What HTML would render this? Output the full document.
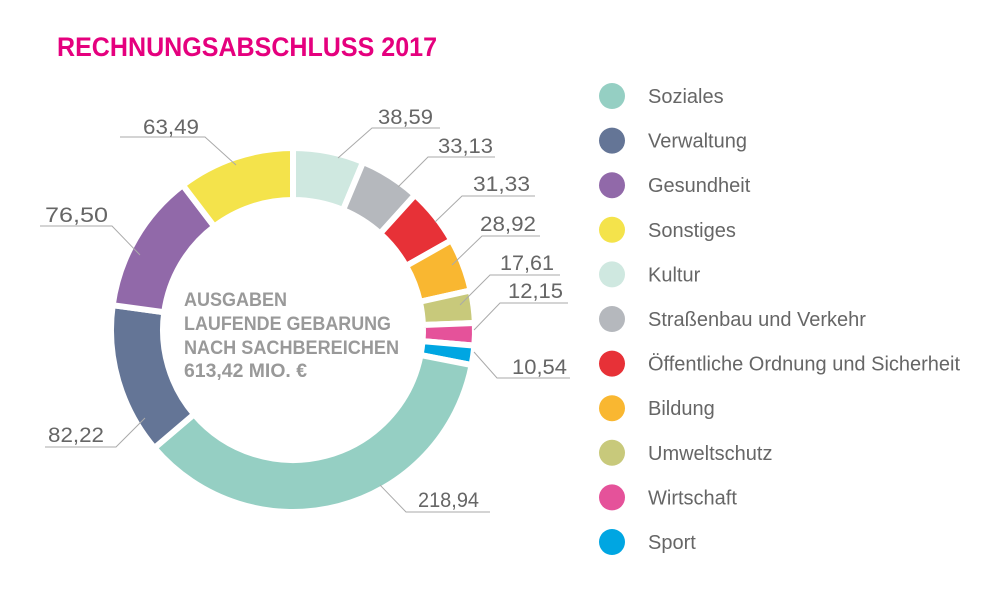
<!DOCTYPE html>
<html><head><meta charset="utf-8"><style>
html,body{margin:0;padding:0;background:#fff;}
svg{display:block;font-family:"Liberation Sans",sans-serif;}
</style></head><body>
<svg id="s" width="1000" height="600" viewBox="0 0 1000 600">
<text x="57" y="56" fill="#e5007e" font-size="27" font-weight="bold" textLength="380" lengthAdjust="spacingAndGlyphs">RECHNUNGSABSCHLUSS 2017</text>
<g id="ring"></g>
<g fill="#999" font-size="19" font-weight="bold">
<text x="184" y="306" textLength="103" lengthAdjust="spacingAndGlyphs">AUSGABEN</text>
<text x="184" y="330" textLength="207" lengthAdjust="spacingAndGlyphs">LAUFENDE GEBARUNG</text>
<text x="184" y="354" textLength="215" lengthAdjust="spacingAndGlyphs">NACH SACHBEREICHEN</text>
<text x="184" y="377" textLength="123" lengthAdjust="spacingAndGlyphs">613,42 MIO. €</text>
</g>
<g stroke="#aaa" stroke-width="1" fill="none">
<polyline points="120,137 205,137 236,165"/>
<polyline points="440,128 372,128 338,158"/>
<polyline points="495,157 428,157 398,187"/>
<polyline points="535,196 462,196 435,222"/>
<polyline points="540,236 482,236 452,265"/>
<polyline points="560,275 490,275 460,305"/>
<polyline points="568,303 500,303 474,330"/>
<polyline points="474,352 497,378 570,378"/>
<polyline points="380,485 406,512 490,512"/>
<polyline points="45,447 116,447 145,418"/>
<polyline points="40,226 112,226 140,255"/>
</g>
<g fill="#666" font-size="21">
<text x="143" y="134" textLength="56" lengthAdjust="spacingAndGlyphs">63,49</text>
<text x="378" y="124" textLength="55" lengthAdjust="spacingAndGlyphs">38,59</text>
<text x="438" y="153" textLength="55" lengthAdjust="spacingAndGlyphs">33,13</text>
<text x="473" y="191" textLength="57" lengthAdjust="spacingAndGlyphs">31,33</text>
<text x="480" y="231" textLength="56" lengthAdjust="spacingAndGlyphs">28,92</text>
<text x="500" y="270" textLength="54" lengthAdjust="spacingAndGlyphs">17,61</text>
<text x="508" y="298" textLength="55" lengthAdjust="spacingAndGlyphs">12,15</text>
<text x="512" y="374" textLength="55" lengthAdjust="spacingAndGlyphs">10,54</text>
<text x="418" y="507" textLength="61" lengthAdjust="spacingAndGlyphs">218,94</text>
<text x="48" y="442" textLength="56" lengthAdjust="spacingAndGlyphs">82,22</text>
<text x="45" y="222" textLength="63" lengthAdjust="spacingAndGlyphs">76,50</text>
</g>
<g id="leg" fill="#666" font-size="20"></g>
</svg>
<script>
var cx=293,cy=330,R=182,r=130;
var d=[[38.59,"#cfe8e0"],[33.13,"#b5b8bd"],[31.33,"#e73137"],[28.92,"#f9b731"],[17.61,"#c8c97b"],[12.15,"#e5529a"],[10.54,"#00a6e2"],[218.94,"#95cfc3"],[82.22,"#647596"],[76.5,"#9169a9"],[63.49,"#f4e34b"]];
var tot=613.42,a=0,g=document.getElementById("ring"),ns="http://www.w3.org/2000/svg";
function p(rad,ang){return [cx+rad*Math.sin(ang),cy-rad*Math.cos(ang)];}
d.forEach(function(x){var a0=a/tot*2*Math.PI;a+=x[0];var a1=a/tot*2*Math.PI;
var L=(a1-a0)>Math.PI?1:0;var A=p(R,a0),B=p(R,a1),C=p(r,a1),D=p(r,a0);
var e=document.createElementNS(ns,"path");
e.setAttribute("d","M"+A+"A"+R+","+R+" 0 "+L+" 1 "+B+"L"+C+"A"+r+","+r+" 0 "+L+" 0 "+D+"Z");
e.setAttribute("fill",x[1]);e.setAttribute("stroke","#fff");e.setAttribute("stroke-width","6");g.appendChild(e);});
var leg=[["Soziales","#95cfc3"],["Verwaltung","#647596"],["Gesundheit","#9169a9"],["Sonstiges","#f4e34b"],["Kultur","#cfe8e0"],["Straßenbau und Verkehr","#b5b8bd"],["Öffentliche Ordnung und Sicherheit","#e73137"],["Bildung","#f9b731"],["Umweltschutz","#c8c97b"],["Wirtschaft","#e5529a"],["Sport","#00a6e2"]];
var lg=document.getElementById("leg");
leg.forEach(function(x,i){var y=96+i*44.6;var c=document.createElementNS(ns,"circle");
c.setAttribute("cx",612);c.setAttribute("cy",y);c.setAttribute("r",13);c.setAttribute("fill",x[1]);lg.appendChild(c);
var t=document.createElementNS(ns,"text");t.setAttribute("x",648);t.setAttribute("y",y+7);t.textContent=x[0];lg.appendChild(t);});
</script>
</body></html>
